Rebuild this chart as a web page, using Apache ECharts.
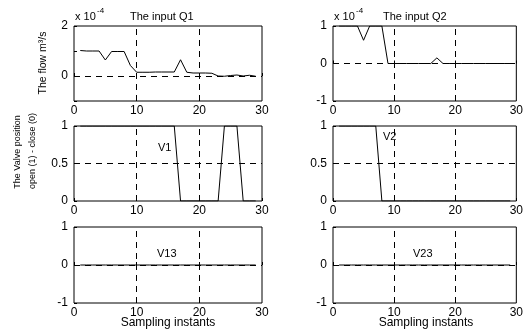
<!DOCTYPE html>
<html><head><meta charset="utf-8">
<script src="https://cdn.jsdelivr.net/npm/echarts@6/dist/echarts.min.js"></script>
<style>html,body{margin:0;padding:0;background:#fff}#c{width:526px;height:334px}</style>
</head><body><div id="c"></div>
<script>
// ---- data ----
const samples = [1,2,3,4,5,6,7,8,9,10,11,12,13,14,15,16,17,18,19,20,21,22,23,24,25,26,27,28,29];
// flows in units of 1e-4 m^3/s
const q1 = [1.02,1.0,1.0,1.0,0.64,0.98,0.98,0.98,0.42,0.15,0.15,0.15,0.16,0.16,0.16,0.16,0.65,0.15,0.12,0.12,0.12,0.11,0.0,-0.01,0.02,0.04,0.0,0.03,-0.01];
const q2 = [1,1,1,1,0.62,1,1,1,0,0,0,0,0,0,0,0,0.15,0,0,0,0,0,0,0,0,0,0,0,0];
const v1 = [1,1,1,1,1,1,1,1,1,1,1,1,1,1,1,1,0,0,0,0,0,0,0,1,1,1,0,0,0];
const v2 = [1,1,1,1,1,1,1,0,0,0,0,0,0,0,0,0,0,0,0,0,0,0,0,0,0,0,0,0,0];
const v13 = [0,0,0,0,0,0,0,0,0,0,0,0,0,0,0,0,0,0,0,0,0,0,0,0,0,0,0,0,0];
const v23 = [0,0,0,0,0,0,0,0,0,0,0,0,0,0,0,0,0,0,0,0,0,0,0,0,0,0,0,0,0];
const xTickLabels = [0,10,20,30];
const yLabelsQ1 = [0,2];
const yLabelsQ2 = [-1,0,1];
const yLabelsValve = [0,0.5,1];
const yLabelsV3 = [-1,0,1];
const panelTexts = ['V1','V2','V13','V23'];

const FONT = 'Liberation Sans, Arial, Helvetica, sans-serif';
const panels = [
  {grid:{left:74,top:26,width:188,height:75}, y:{min:-1,max:2,interval:1}, labels:yLabelsQ1, data:q1, hLine:0},
  {grid:{left:333,top:26,width:186,height:75}, y:{min:-1,max:1,interval:1}, labels:yLabelsQ2, data:q2, hLine:0},
  {grid:{left:74,top:126,width:188,height:75}, y:{min:0,max:1,interval:0.5}, labels:yLabelsValve, data:v1, hLine:0.5},
  {grid:{left:333,top:126,width:186,height:75}, y:{min:0,max:1,interval:0.5}, labels:yLabelsValve, data:v2, hLine:0.5},
  {grid:{left:74,top:227,width:188,height:76}, y:{min:-1,max:1,interval:1}, labels:yLabelsV3, data:v13, hLine:0},
  {grid:{left:333,top:227,width:186,height:76}, y:{min:-1,max:1,interval:1}, labels:yLabelsV3, data:v23, hLine:0}
];

const grids = [], xAxes = [], yAxes = [], series = [];
panels.forEach((p, i) => {
  grids.push(Object.assign({show:true, borderColor:'#000', borderWidth:1, backgroundColor:'#fff'}, p.grid));
  xAxes.push({
    type:'value', gridIndex:i, min:0, max:30, interval:10,
    axisLine:{show:false}, splitLine:{show:false},
    axisTick:{show:true, inside:true, length:3, lineStyle:{color:'#000'}},
    axisLabel:{color:'#000', fontSize:12, fontFamily:FONT, margin:4,
      formatter:(v)=> xTickLabels.includes(v) ? String(v) : ''}
  });
  yAxes.push({
    type:'value', gridIndex:i, min:p.y.min, max:p.y.max, interval:p.y.interval,
    axisLine:{show:false}, splitLine:{show:false},
    axisTick:{show:true, inside:true, length:3, lineStyle:{color:'#000'}},
    axisLabel:{color:'#000', fontSize:12, fontFamily:FONT, margin:6,
      formatter:(v)=> p.labels.some(l => Math.abs(l - v) < 1e-9) ? String(v) : ''}
  });
  series.push({
    type:'line', xAxisIndex:i, yAxisIndex:i, symbol:'none', clip:true,
    data: samples.map((s,k)=>[s, p.data[k]]),
    lineStyle:{color:'#000', width:1},
    z:3,
    markLine:{
      silent:true, symbol:['none','none'], label:{show:false},
      lineStyle:{color:'#000', type:[6,5], width:1},
      data:[{xAxis:10},{xAxis:20},{yAxis:p.hLine}],
      z:2
    }
  });
});

const txt = (x, y, text, size, extra) => Object.assign({
  type:'text', x:x, y:y, z:10,
  style:{text:text, fill:'#000', font: size + 'px ' + FONT, textAlign:'left', textVerticalAlign:'middle'}
}, extra || {});

const graphic = [
  txt(75, 17, 'x 10', 11), txt(97, 11, '-4', 8),
  txt(130, 17, 'The input Q1', 11),
  txt(334, 17, 'x 10', 11), txt(356, 11, '-4', 8),
  txt(383, 17, 'The input Q2', 11),
  txt(158, 148, panelTexts[0], 11),
  txt(383, 137, panelTexts[1], 11),
  txt(157, 254, panelTexts[2], 11),
  txt(413, 254, panelTexts[3], 11),
  {type:'text', x:43, y:63, rotation:Math.PI/2, z:10,
    style:{text:'The flow m³/s', fill:'#000', font:'10.5px ' + FONT, textAlign:'center', textVerticalAlign:'middle'}},
  {type:'text', x:18, y:152, rotation:Math.PI/2, z:10,
    style:{text:'The Valve position', fill:'#000', font:'9px ' + FONT, textAlign:'center', textVerticalAlign:'middle'}},
  {type:'text', x:33, y:151, rotation:Math.PI/2, z:10,
    style:{text:'open (1) - close (0)', fill:'#000', font:'9px ' + FONT, textAlign:'center', textVerticalAlign:'middle'}},
  {type:'text', x:168, y:323, z:10,
    style:{text:'Sampling instants', fill:'#000', font:'12px ' + FONT, textAlign:'center', textVerticalAlign:'middle'}},
  {type:'text', x:426, y:323, z:10,
    style:{text:'Sampling instants', fill:'#000', font:'12px ' + FONT, textAlign:'center', textVerticalAlign:'middle'}}
];

const chart = echarts.init(document.getElementById('c'), null, {renderer:'canvas'});
chart.setOption({
  animation:false,
  backgroundColor:'#fff',
  grid:grids, xAxis:xAxes, yAxis:yAxes, series:series, graphic:graphic
});
</script>
</body></html>
